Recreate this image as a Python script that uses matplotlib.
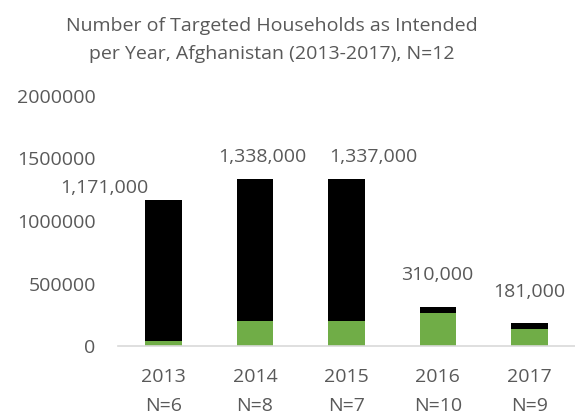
import matplotlib.pyplot as plt

plt.rcParams['font.family'] = ['Open Sans', 'DejaVu Sans']

years = ['2013', '2014', '2015', '2016', '2017']
n_reports = [6, 8, 7, 10, 9]
totals = [1171000, 1338000, 1337000, 310000, 181000]
green_part = [37000, 200000, 200000, 265000, 140000]
black_part = [t - g for t, g in zip(totals, green_part)]

# label nudges in pixels (labels were hand-placed in the original)
label_dx = [-59, 7, 27, -1, 0]
label_dy = [12, 22, 22, 32, 31]

grey = '#595959'
fs = 14

fig = plt.figure(figsize=(5.75, 4.17), dpi=100)
ax = fig.add_axes([0.205, 0.170, 0.795, 0.600])

x = range(len(years))
ax.bar(x, green_part, width=0.4, color='#70AD47')
ax.bar(x, black_part, width=0.4, bottom=green_part, color='black')

for i, t in enumerate(totals):
    ax.annotate(f'{t:,}', (i, t), xytext=(label_dx[i], label_dy[i]),
                textcoords='offset pixels', ha='center', va='center',
                fontsize=fs, color=grey)

ax.set_xlim(-0.5, 4.5)
ax.set_ylim(0, 2000000)
ax.set_yticks([0, 500000, 1000000, 1500000, 2000000])
ax.set_yticklabels(['0', '500000', '1000000', '1500000', '2000000'])
ax.set_xticks(list(x))
ax.set_xticklabels([f'{y}\nN={n}' for y, n in zip(years, n_reports)],
                   linespacing=1.75)
ax.tick_params(axis='both', length=0, labelsize=fs, colors=grey)
ax.tick_params(axis='y', pad=16)
ax.tick_params(axis='x', pad=16)

for s in ['top', 'right', 'left']:
    ax.spines[s].set_visible(False)
ax.spines['bottom'].set_color('#d9d9d9')
ax.spines['bottom'].set_linewidth(1.2)

fig.text(0.472, 0.905, 'Number of Targeted Households as Intended\nper Year, Afghanistan (2013-2017), N=12',
         ha='center', va='center', fontsize=fs, color=grey, linespacing=1.7)

fig.savefig('out.png', dpi=100)
